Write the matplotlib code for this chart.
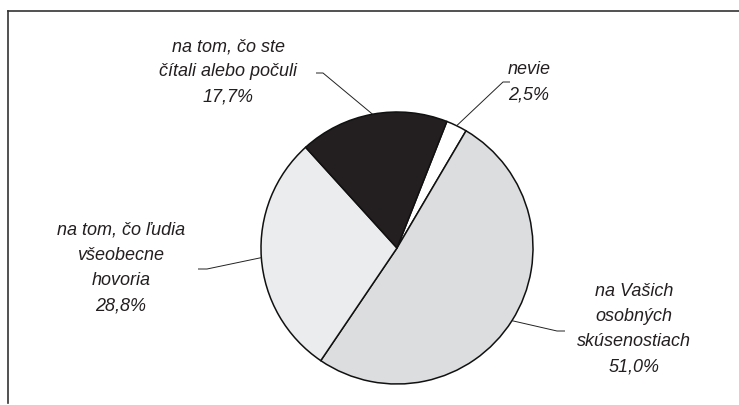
import numpy as np
import matplotlib
matplotlib.use('Agg')
import matplotlib.pyplot as plt
from matplotlib.lines import Line2D

#%% data
labels = ['nevie', 'na Vašich\nosobných\nskúsenostiach',
          'na tom, čo ľudia\nvšeobecne\nhovoria', 'na tom, čo ste\nčítali alebo počuli']
values = [2.5, 51.0, 28.8, 17.7]
colors = ['#ffffff', '#dcdddf', '#ebeced', '#231f20']

W, H = 739, 405
# label layout in image pixels (x, y of text centre), leader elbow (start, bend)
text_pos = [(529, 82), (634, 329), (121, 268), (228, 72)]
elbows = [((510, 82), (503, 82)), ((565, 331), (557, 331)),
          ((198, 269), (207, 269)), ((316, 73), (323, 73))]

plt.rcParams['font.family'] = ['Liberation Sans', 'DejaVu Sans']

fig = plt.figure(figsize=(W / 100, H / 100), dpi=100)
ax = fig.add_axes([0, 0, 1, 1])

cx, cy, r = 397, H - 248, 136
wedges, _ = ax.pie(values, colors=colors, startangle=68.5, counterclock=False,
                   center=(cx, cy), radius=r,
                   wedgeprops=dict(edgecolor='#111111', linewidth=1.1))
ax.set_xlim(0, W)
ax.set_ylim(0, H)
ax.set_aspect('equal')
ax.axis('off')

for w, lab, val, (tx, ty), (p0, p1) in zip(wedges, labels, values, text_pos, elbows):
    mid = np.deg2rad((w.theta1 + w.theta2) / 2)
    ex, ey = cx + r * np.cos(mid), cy + r * np.sin(mid)
    ax.plot([p0[0], p1[0], ex], [H - p0[1], H - p1[1], ey],
            color='#222222', lw=0.7, solid_capstyle='butt')
    txt = lab + '\n' + ('%.1f%%' % val).replace('.', ',')
    ax.text(tx, H - ty, txt, ha='center', va='center', multialignment='center',
            fontsize=13, style='italic', color='#231f20', linespacing=1.62)

# outer frame (only top and left visible)
fig.add_artist(Line2D([8 / W, 1], [1 - 11 / H, 1 - 11 / H], color='#333333', lw=1.2))
fig.add_artist(Line2D([8 / W, 8 / W], [1 - 11 / H, 1 - 403 / H], color='#333333', lw=1.2))

fig.savefig('out.png', dpi=100)
